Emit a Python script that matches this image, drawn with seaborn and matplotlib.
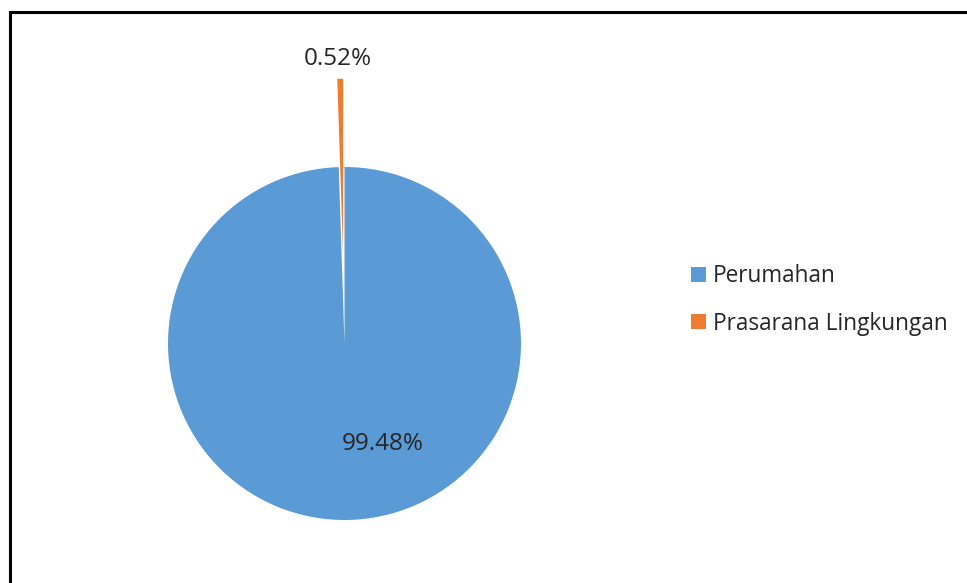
import matplotlib
matplotlib.use("Agg")
import matplotlib.pyplot as plt
import seaborn as sns
from matplotlib.patches import Rectangle, Patch

categories = ["Perumahan", "Prasarana Lingkungan"]
values = [99.48, 0.52]
pct_labels = ["99.48%", "0.52%"]
colors = ["#5B9BD5", "#ED7D31"]

sns.set_theme(style="white")
plt.rcParams["font.family"] = ["Open Sans", "DejaVu Sans"]

W, H = 967, 583
fig = plt.figure(figsize=(W / 100, H / 100), dpi=100)
fig.patch.set_facecolor("white")

# axes placed so the pie (radius 1) has radius ~176.5 px, centre at (344.5, 343.5)
R = 176.5
cx, cy = 344.5, 343.5
lim = 1.7
side = 2 * lim * R
ax = fig.add_axes([(cx - side / 2) / W, (H - cy - side / 2) / H, side / W, side / H])

wedges, _ = ax.pie(values, colors=colors, startangle=90, counterclock=False,
                   explode=[0, 0.5], radius=1,
                   wedgeprops=dict(linewidth=0))
ax.set_xlim(-lim, lim)
ax.set_ylim(-lim, lim)
ax.set_aspect("equal")
ax.axis("off")

# data labels
label_pos = [(0.215, -0.567), (-0.037, 1.61)]
for txt, (x, y) in zip(pct_labels, label_pos):
    ax.text(x, y, txt, ha="center", va="center", fontsize=17.5, color="#262626")

# legend
handles = [Patch(facecolor=c, edgecolor="none") for c in colors]
fig.legend(handles, categories, loc="center left", bbox_to_anchor=(671 / W, 1 - 300 / H),
           frameon=False, fontsize=16.3, handlelength=0.65, handleheight=0.65,
           handletextpad=0.3, labelspacing=1.05, labelcolor="#262626")

# outer border (chart frame)
fig.patches.append(Rectangle((10 / W, -0.1), 1.2, (H - 12) / H + 0.1,
                             transform=fig.transFigure, fill=False,
                             edgecolor="black", linewidth=2.2, clip_on=False))

fig.savefig("out.png", dpi=100, facecolor="white")
